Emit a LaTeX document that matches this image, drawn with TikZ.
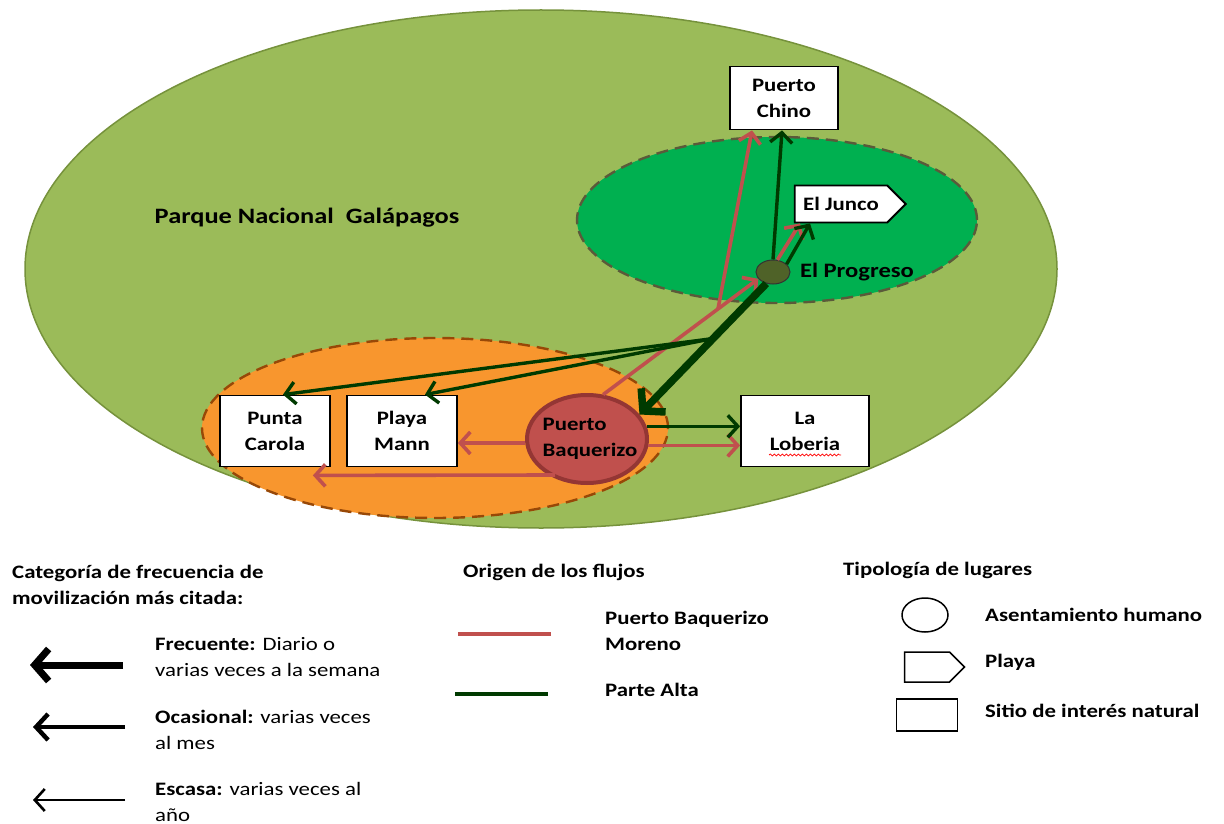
\documentclass[tikz,border=0pt]{standalone}
\usepackage{fontspec}
\setmainfont{Carlito}[FakeStretch=1.2]
\usepackage{tikz}
\usetikzlibrary{arrows.meta,positioning,calc,shapes.geometric,shapes.symbols,decorations.pathmorphing}
\definecolor{parkgreen}{HTML}{9BBB59}
\definecolor{parkline}{HTML}{76923C}
\definecolor{altagreen}{HTML}{00B050}
\definecolor{altaline}{HTML}{5A5A3A}
\definecolor{urbanorange}{HTML}{F8962E}
\definecolor{urbanline}{HTML}{984807}
\definecolor{pbred}{HTML}{C0504D}
\definecolor{pbdark}{HTML}{943634}
\definecolor{progreso}{HTML}{4F6228}
\definecolor{flowgreen}{HTML}{003A00}

\begin{document}
\begin{tikzpicture}[x=1pt,y=-1pt,
    every node/.style={font=\fontsize{19}{26}\selectfont\bfseries},
    sitio/.style={draw,line width=1.8pt,fill=white,align=center,minimum height=71pt,inner sep=0pt},
    playa/.style={draw,line width=1.8pt,fill=white,signal,signal to=east,inner sep=0pt},
    leyenda/.style={anchor=west,align=left,inner sep=0pt},
    pbflow/.style={pbred,line width=3.6pt,-{Straight Barb[length=10pt,width=22pt]}},
    paflow/.style={flowgreen,line width=3.4pt,-{Straight Barb[length=10pt,width=22pt]}}]
    \useasboundingbox (0,0) rectangle (1224,824);

    % zonas
    \fill[parkgreen,draw=parkline,line width=1.5pt] (541,269) ellipse [x radius=516pt,y radius=259pt];
    \fill[altagreen,draw=altaline,line width=2.4pt,dash pattern=on 12pt off 7pt] (777,220) ellipse [x radius=200pt,y radius=83pt];
    \fill[urbanorange,draw=urbanline,line width=2.4pt,dash pattern=on 12pt off 7pt] (435,428) ellipse [x radius=233pt,y radius=90pt];
    \node[font=\fontsize{22}{26}\selectfont\bfseries] (parque) at (307,218) {Parque Nacional\ \ Galápagos};

    % lugares
    \node[sitio,minimum width=108pt,minimum height=63pt] (chino) at (784,98) {Puerto\\Chino};
    \node[playa,minimum width=111pt,minimum height=37pt] (junco) at (841,204) {El Junco\hspace{6pt}};
    \node[sitio,minimum width=110pt] (carola) at (275,431) {Punta\\Carola};
    \node[sitio,minimum width=110pt] (mann) at (402,431) {Playa\\Mann};
    \node[sitio,minimum width=128pt] (lob) at (805,431) {La\\Loberia};
    \draw[red,line width=0.7pt,decorate,decoration={snake,amplitude=1pt,segment length=4pt}] ([xshift=-36pt,yshift=-24pt]lob.center) -- ++(72,0);
    \node[ellipse,draw=pbdark,line width=4pt,fill=pbred,minimum width=120pt,minimum height=88pt] (baq) at (587,439) {};
    \node[align=left,inner sep=0pt] at ([xshift=3pt]baq.center) {Puerto\\Baquerizo};
    \node[ellipse,draw=black!80,line width=1pt,fill=progreso,minimum width=34pt,minimum height=24pt,inner sep=0pt] (prog) at (773,272) {};
    \node[right=6pt of prog,font=\fontsize{20.5}{26}\selectfont\bfseries] (progname) {El Progreso};

    % flujos desde Puerto Baquerizo
    \coordinate (rsplit) at ($(baq.70)!0.74!(prog.205)$);
    \draw[pbflow] (baq.70) -- (prog.205);
    \draw[pbflow] (rsplit) -- ([xshift=-32pt]chino.south);
    \draw[pbflow] (prog.70) -- ([xshift=-41pt]junco.south);
    \draw[pbflow] ([yshift=-4pt]baq.west) -- ([yshift=-4pt]baq.west -| mann.east);
    \draw[pbflow] ([xshift=-32pt,yshift=-36pt]baq.center) -- ([xshift=-18pt,yshift=-8pt]carola.south east);
    \draw[pbflow] (baq.-6) -- (baq.-6 -| lob.west);

    % flujos desde la parte alta
    \coordinate (gsplit) at ($(prog.240)!0.42!(baq.25)$);
    \draw[paflow] (prog.north) -- ([xshift=-2pt]chino.south);
    \draw[paflow] (prog.30) -- ([xshift=-31pt]junco.south);
    \draw[flowgreen,line width=7.5pt,-{Straight Barb[length=15pt,width=34pt]}] (prog.240) -- (baq.25);
    \draw[paflow] (gsplit) -- ([xshift=8pt]carola.north);
    \draw[paflow] (gsplit) -- ([xshift=23pt]mann.north);
    \draw[paflow] (baq.12) -- (baq.12 -| lob.west);

    % leyenda: frecuencia
    \node[leyenda] (catfrec) at (12,585) {Categoría de frecuencia de\\movilización más citada:};
    \node[leyenda] (frec) at (155,657) {Frecuente: {\mdseries Diario o}\\{\mdseries varias veces a la semana}};
    \node[leyenda] (ocas) at (155,730) {Ocasional: {\mdseries varias veces}\\{\mdseries al mes}};
    \node[leyenda] (esca) at (155,802) {Escasa: {\mdseries varias veces al}\\{\mdseries año}};
    \draw[line width=7pt,-{Straight Barb[length=14pt,width=32pt]}] ([xshift=-32pt,yshift=-8pt]frec.west) -- ++(-93,0);
    \draw[line width=4.5pt,-{Straight Barb[length=12pt,width=26pt]}] ([xshift=-30pt,yshift=3pt]ocas.west) -- ++(-92,0);
    \draw[line width=2.6pt,-{Straight Barb[length=10pt,width=22pt]}] ([xshift=-30pt,yshift=2pt]esca.west) -- ++(-92,0);

    % leyenda: origen
    \node[leyenda] (origen) at (463,572) {Origen de los flujos};
    \node[leyenda] (pbleg) at (605,631) {Puerto Baquerizo\\Moreno};
    \node[leyenda] (paleg) at (605,690) {Parte Alta};
    \draw[pbred,line width=4.5pt] ([xshift=-54pt,yshift=-3pt]pbleg.west) -- ++(-93,0);
    \draw[flowgreen,line width=4.5pt] ([xshift=-57pt,yshift=-4pt]paleg.west) -- ++(-93,0);

    % leyenda: tipologia
    \node[leyenda] (tipo) at (843,570) {Tipología de lugares};
    \node[ellipse,draw,line width=1.5pt,minimum width=46pt,minimum height=34pt,inner sep=0pt] (legasent) at (925,615) {};
    \node[signal,signal to=east,draw,line width=1.5pt,minimum width=60pt,minimum height=30pt,inner sep=0pt] (legplaya) at (927,667) {};
    \node[draw,line width=1.5pt,minimum width=61pt,minimum height=32pt,inner sep=0pt] (legsitio) at (927,715) {};
    \node[leyenda] at (985,615) {Asentamiento humano};
    \node[leyenda] at (985,662) {Playa};
    \node[leyenda] at (985,711) {Sitio de interés natural};
\end{tikzpicture}
\end{document}
